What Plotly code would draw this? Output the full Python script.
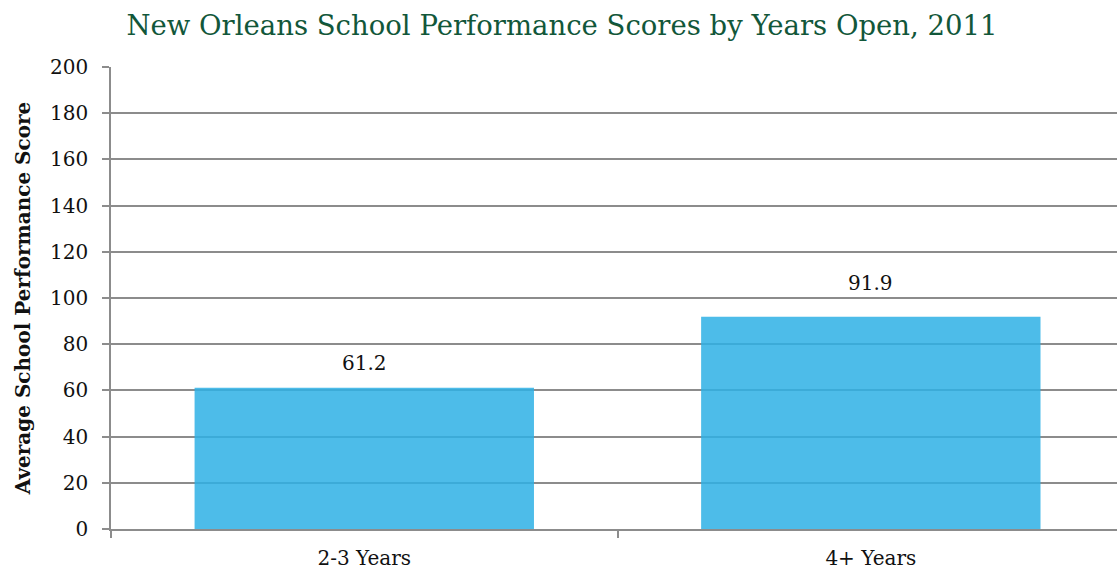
import plotly.graph_objects as go

categories = ["2-3 Years", "4+ Years"]
scores = [61.2, 91.9]
label_texts = ["61.2", "91.9"]
label_shift = [25, 34]

title_text = "New Orleans School Performance Scores by Years Open, 2011"
y_title = "Average School Performance Score"
y_ticks = [0, 20, 40, 60, 80, 100, 120, 140, 160, 180, 200]

W, H = 1117, 571

fig = go.Figure()
fig.add_trace(go.Bar(
    x=categories, y=scores, width=0.67,
    marker=dict(color="rgba(46,176,229,0.85)", line=dict(width=0)),
    hoverinfo="skip",
))
for c, v, t, s in zip(categories, scores, label_texts, label_shift):
    fig.add_annotation(x=c, y=v, text=t, showarrow=False, yshift=s,
                       font=dict(family="DejaVu Serif", size=20, color="#111"))

grid_col = "#8c8c8c"
fig.update_layout(
    width=W, height=H,
    margin=dict(l=111, r=0, t=67, b=42, autoexpand=False),
    plot_bgcolor="white", paper_bgcolor="white",
    showlegend=False,
    title=dict(text=title_text, x=562 / W, xanchor="center", y=1 - 25 / H, yanchor="middle",
               xref="container", yref="container",
               font=dict(family="DejaVu Serif", size=27.5, color="#12573a")),
    bargap=0.33,
)
fig.update_yaxes(
    range=[0, 200], tickvals=y_ticks, ticks="outside", ticklen=7, tickcolor=grid_col,
    tickwidth=1.5, showgrid=True, gridcolor=grid_col, gridwidth=1.5,
    showline=True, linecolor=grid_col, linewidth=1.5, zeroline=False,
    ticklabelstandoff=10,
    tickfont=dict(family="DejaVu Serif", size=20, color="#111"),
    title=dict(text=y_title, font=dict(family="DejaVu Serif", size=20, color="#111", weight="bold"), standoff=14),
)
fig.update_xaxes(
    range=[-0.5, 1.486], ticks="outside", tickson="boundaries", ticklen=7, tickcolor=grid_col,
    tickwidth=1.5, showline=True, linecolor=grid_col, linewidth=1.5,
    ticklabelstandoff=10,
    tickfont=dict(family="DejaVu Serif", size=20, color="#111"),
)
fig.write_html("out.html", config={"displayModeBar": False},
               post_script="document.body.style.margin='0';document.body.style.overflow='hidden';")
